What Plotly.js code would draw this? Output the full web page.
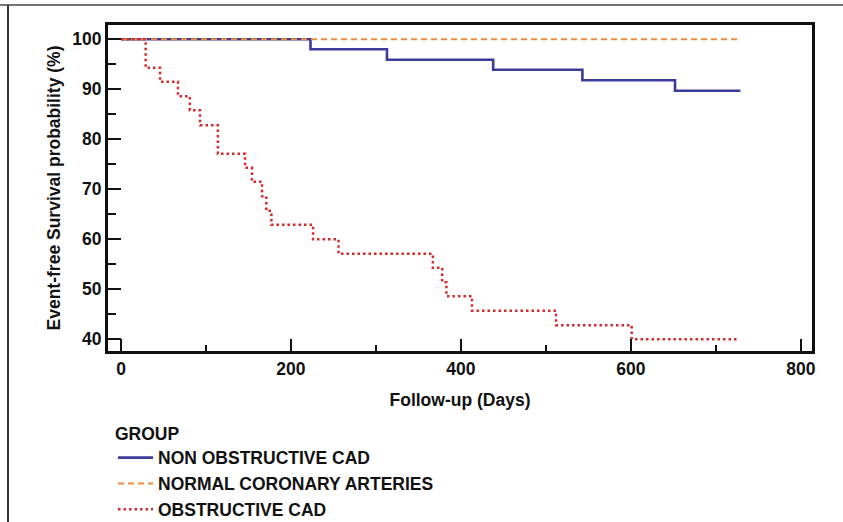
<!DOCTYPE html>
<html>
<head>
<meta charset="utf-8">
<script src="https://cdn.plot.ly/plotly-3.0.1.min.js"></script>
<style>
html,body{margin:0;padding:0;background:#fff;}
#chart{width:843px;height:522px;}
</style>
</head>
<body>
<div id="chart"></div>
<script>
// Kaplan-Meier step data
const groupNames = ["NON OBSTRUCTIVE CAD", "NORMAL CORONARY ARTERIES", "OBSTRUCTIVE CAD"];

const nonObstructiveDays = [0, 223, 313, 438, 543, 652, 729];
const nonObstructiveSurv = [100, 98.0, 95.9, 93.9, 91.8, 89.7, 89.7];

const normalDays = [0, 729];
const normalSurv = [100, 100];

const obstructiveDays = [0, 29, 46, 67, 81, 93, 114, 146, 154, 166, 171, 177, 226, 256, 367, 378, 383, 413, 512, 601, 726];
const obstructiveSurv = [100, 94.3, 91.5, 88.6, 85.8, 82.8, 77.1, 74.3, 71.5, 68.6, 65.7, 62.9, 60.0, 57.1, 54.3, 51.4, 48.6, 45.7, 42.8, 40.0, 40.0];

const xTickVals = [0, 200, 400, 600, 800];
const yTickVals = [40, 50, 60, 70, 80, 90, 100];

const FONT = "Liberation Sans, Arial, Helvetica, sans-serif";
const AX = 17.5, LG = 17.5;

const traces = [
  {x: nonObstructiveDays, y: nonObstructiveSurv, name: groupNames[0], mode: "lines",
   line: {shape: "hv", color: "#3b3b9c", width: 2.6}},
  {x: normalDays, y: normalSurv, name: groupNames[1], mode: "lines",
   line: {shape: "hv", color: "#f08a3c", width: 2, dash: "6px,4px"}},
  {x: obstructiveDays, y: obstructiveSurv, name: groupNames[2], mode: "lines",
   line: {shape: "hv", color: "#d8282a", width: 2.5, dash: "2.5px,3px"}}
];

const L = 108, R = 31, T = 25, B = 171, W = 843, H = 522;
const pw = W - L - R, ph = H - T - B;
const px = v => (v - L) / pw;
const py = v => (H - B - v) / ph;

const layout = {
  width: W, height: H,
  margin: {l: L, r: R, t: T, b: B, pad: 0, autoexpand: false},
  paper_bgcolor: "#fff", plot_bgcolor: "#fff",
  font: {family: FONT, size: AX, color: "#111", weight: "bold"},
  showlegend: true,
  xaxis: {
    range: [-15.3, 813.2], tickvals: xTickVals, ticktext: xTickVals.map(String),
    ticks: "inside", ticklen: 12, tickwidth: 2, tickcolor: "#111",
    showline: true, linewidth: 3, linecolor: "#111", mirror: true,
    showgrid: false, zeroline: false, automargin: false,
    minor: {dtick: 100, tick0: 0, ticks: "inside", ticklen: 6, tickwidth: 2, tickcolor: "#111", showgrid: false},
    tickfont: {family: FONT, size: AX, weight: "bold", color: "#111"},
    title: {text: "Follow-up (Days)", font: {family: FONT, size: AX, weight: "bold", color: "#111"}, standoff: 16}
  },
  yaxis: {
    range: [37.66, 102.86], tickvals: yTickVals, ticktext: yTickVals.map(String),
    ticks: "inside", ticklen: 13, tickwidth: 2, tickcolor: "#111",
    showline: true, linewidth: 3, linecolor: "#111", mirror: true,
    showgrid: false, zeroline: false, automargin: false,
    minor: {dtick: 5, tick0: 0, ticks: "inside", ticklen: 8, tickwidth: 2, tickcolor: "#111", showgrid: false},
    tickfont: {family: FONT, size: AX, weight: "bold", color: "#111"},
    title: {text: "Event-free Survival probability (%)", font: {family: FONT, size: AX, weight: "bold", color: "#111"}, standoff: 8}
  },
  legend: {
    x: px(113), xanchor: "left", y: py(417), yanchor: "top",
    bgcolor: "rgba(0,0,0,0)", borderwidth: 0,
    font: {family: FONT, size: LG, weight: "bold", color: "#111"},
    title: {text: "GROUP", font: {family: FONT, size: LG, weight: "bold", color: "#111"}},
    tracegroupgap: 0, itemwidth: 35
  },
  shapes: [
    {type: "line", xref: "paper", yref: "paper", x0: px(0), x1: px(843), y0: py(5), y1: py(5),
     line: {color: "#444", width: 1.5}},
    {type: "line", xref: "paper", yref: "paper", x0: px(8), x1: px(8), y0: py(5), y1: py(522),
     line: {color: "#333", width: 2}}
  ]
};

Plotly.newPlot("chart", traces, layout, {displayModeBar: false, staticPlot: true});
</script>
</body>
</html>
